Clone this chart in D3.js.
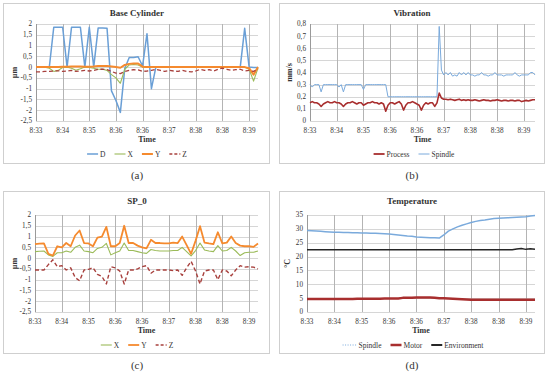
<!DOCTYPE html>
<html><head><meta charset="utf-8">
<script src="https://cdn.jsdelivr.net/npm/d3@7"></script>
<style>
body{margin:0;background:#fff}
svg{display:block}
text{font-family:"Liberation Serif","DejaVu Serif",serif;fill:#333}
</style>
</head><body><svg id="c" width="550" height="376"></svg>
<script>
// ---------- shared tick labels ----------
const timeLabels = ["8:33","8:34","8:35","8:36","8:36","8:37","8:38","8:38","8:39"];

// ---------- (a) Base Cylinder ----------
const cylTicks = [-2.5,-2,-1.5,-1,-0.5,0,0.5,1,1.5,2];
const cylD = [0,0,0,0,1.85,1.85,1.85,0,1.85,1.85,1.85,0,1.85,0,1.82,1.82,1.8,-1.1,-1.55,-2.1,-0.05,0.45,0.45,0.48,0.05,1.55,-1.0,0,
  0,0,0,0,0,0,0,0,0,0,0,0,0,0,0,0,0,0,0,1.8,0,-0.02,-0.02];
const cylX = [0,0,0,-0.05,-0.2,-0.15,-0.02,0,-0.05,-0.15,-0.08,0,-0.02,-0.05,-0.1,-0.1,-0.15,-0.35,-0.5,-0.75,-0.1,0.1,0.12,0.1,0,0,0,0,
  0,0,0,0,0,0,0,0,0,0,0,0,0,0,0,0,0,0,0,0,-0.1,-0.65,-0.05];
const cylY = [0,0,0,0,0,0,0.02,0.02,0.03,0.03,0.03,0.02,0.02,0.03,0.05,0.05,0.05,0.03,0,-0.03,0.1,0.15,0.17,0.17,0.02,0,0,0,
  0,0,0,0,0,0,0,0,0,0,0,0,0,0,0,0,0,0,0,0,-0.05,-0.35,0];
const cylZ = [-0.22,-0.22,-0.2,-0.2,-0.18,-0.17,-0.2,-0.18,-0.15,-0.2,-0.18,-0.15,-0.18,-0.15,-0.1,-0.1,-0.12,-0.2,-0.28,-0.3,-0.2,-0.15,-0.12,-0.13,-0.2,
  -0.18,-0.15,-0.1,-0.15,-0.2,-0.15,-0.18,-0.2,-0.15,-0.2,-0.22,-0.18,-0.1,-0.15,-0.12,-0.18,-0.1,-0.05,-0.1,-0.15,-0.12,-0.1,-0.18,-0.15,-0.2,-0.1];

// ---------- (b) Vibration ----------
const vibTicks = [0,0.1,0.2,0.3,0.4,0.5,0.6,0.7,0.8];
const vibProcess = [0.15,0.16,0.15,0.15,0.14,0.12,0.14,0.15,0.16,0.15,0.15,0.16,0.15,0.15,0.14,0.12,0.14,0.15,0.15,0.16,
  0.15,0.14,0.15,0.15,0.13,0.14,0.15,0.15,0.16,0.15,0.15,0.14,0.15,0.14,0.08,0.13,0.15,0.15,0.14,0.15,
  0.16,0.14,0.09,0.13,0.15,0.15,0.16,0.15,0.14,0.13,0.09,0.13,0.15,0.14,0.15,0.15,0.12,0.15,0.23,0.19,
  0.18,0.18,0.175,0.18,0.175,0.17,0.175,0.18,0.17,0.175,0.17,0.175,0.17,0.17,0.175,0.17,0.165,0.17,0.175,0.17,
  0.17,0.165,0.17,0.17,0.175,0.17,0.165,0.17,0.17,0.165,0.17,0.17,0.165,0.17,0.17,0.16,0.165,0.17,0.165,0.17,0.175,0.175];
const vibSpindle = [0.3,0.28,0.3,0.3,0.3,0.24,0.3,0.3,0.3,0.3,0.3,0.3,0.3,0.28,0.3,0.24,0.3,0.3,0.3,0.3,
  0.3,0.3,0.3,0.3,0.26,0.3,0.3,0.3,0.3,0.3,0.3,0.3,0.3,0.3,0.3,0.2,0.2,0.2,0.2,0.2,
  0.2,0.2,0.2,0.2,0.2,0.2,0.2,0.2,0.2,0.2,0.2,0.2,0.2,0.2,0.2,0.2,0.2,0.2,0.78,0.42,
  0.38,0.4,0.38,0.4,0.37,0.38,0.37,0.4,0.38,0.4,0.38,0.4,0.38,0.38,0.37,0.38,0.38,0.4,0.38,0.38,
  0.37,0.38,0.38,0.4,0.38,0.38,0.38,0.37,0.38,0.38,0.38,0.38,0.4,0.38,0.37,0.38,0.38,0.38,0.38,0.4,0.4,0.38];

// ---------- (c) SP_0 ----------
const spTicks = cylTicks;
const spX = [0.3,0.32,0.33,0.15,0.08,0.25,0.25,0.33,0.27,0.5,0.6,0.33,0.3,0.25,0.45,0.5,0.68,0.15,0.25,0.33,
  0.7,0.35,0.35,0.3,0.25,0.22,0.4,0.35,0.33,0.33,0.33,0.35,0.35,0.5,0.3,0.1,0.35,0.7,0.38,0.33,
  0.3,0.58,0.33,0.35,0.5,0.33,0.12,0.25,0.27,0.27,0.33];
const spY = [0.65,0.67,0.68,0.2,0.12,0.55,0.5,0.7,0.55,1.05,1.28,0.7,0.68,0.55,0.95,1.0,1.45,0.55,0.55,0.7,
  1.5,0.7,0.7,0.58,0.5,0.45,0.85,0.7,0.7,0.68,0.68,0.72,0.7,1.0,0.6,0.2,0.8,1.48,0.72,0.68,
  0.65,1.2,0.68,0.72,1.0,0.7,0.58,0.55,0.55,0.52,0.68];
const spZ = [-0.55,-0.55,-0.55,-0.3,-0.08,-0.4,-0.35,-0.55,-0.45,-0.9,-1.05,-0.55,-0.52,-0.45,-0.75,-0.85,-1.2,-0.4,-0.45,-0.6,
  -1.2,-0.55,-0.55,-0.5,-0.4,-0.35,-0.7,-0.55,-0.55,-0.55,-0.55,-0.58,-0.55,-0.8,-0.45,-0.15,-0.6,-1.2,-0.6,-0.55,
  -0.55,-1.0,-0.55,-0.6,-0.82,-0.55,-0.35,-0.42,-0.4,-0.42,-0.5];

// ---------- (d) Temperature ----------
const tempTicks = [0,5,10,15,20,25,30,35];
const tempSpindle = [29.4,29.3,29.2,29.1,29.0,28.9,28.8,28.8,28.7,28.7,28.6,28.6,28.5,28.5,28.4,28.4,28.3,28.2,28.1,28.0,
  27.8,27.6,27.4,27.3,27.1,27.0,26.9,26.8,26.8,26.7,27.8,29.2,30.0,30.7,31.3,31.8,32.3,32.7,33.0,33.2,
  33.5,33.7,33.8,33.9,34.0,34.1,34.2,34.3,34.4,34.6,34.8];
const tempMotor = [4.7,4.7,4.7,4.7,4.7,4.7,4.7,4.7,4.7,4.7,4.7,4.8,4.8,4.8,4.8,4.8,4.8,4.9,4.9,4.9,
  4.9,5.1,5.1,5.1,5.2,5.2,5.2,5.2,5.1,5.0,5.0,4.9,4.8,4.7,4.6,4.5,4.4,4.4,4.4,4.4,
  4.4,4.4,4.4,4.4,4.4,4.4,4.4,4.4,4.4,4.4,4.4];
const tempEnv = [22.5,22.5,22.5,22.5,22.5,22.5,22.5,22.5,22.5,22.5,22.5,22.5,22.5,22.5,22.5,22.5,22.5,22.5,22.5,22.5,
  22.5,22.5,22.5,22.5,22.5,22.5,22.5,22.5,22.5,22.5,22.5,22.5,22.5,22.5,22.5,22.5,22.5,22.5,22.5,22.5,
  22.5,22.5,22.5,22.5,22.5,22.5,22.7,22.9,22.6,22.8,22.6];

// ---------- colours ----------
const C = {blue:"#6A9FD6", green:"#9BBB59", orange:"#F58A2E", dred:"#A8403D", pred:"#A82E2E", lblue:"#7AAADC", black:"#262626"};

const svg = d3.select("#c");
const fmt = v => String(v).replace(".", ",");

function panel(cfg){
  const g = svg.append("g");
  g.append("rect").attr("x",cfg.box[0]+0.5).attr("y",cfg.box[1]+0.5)
    .attr("width",cfg.box[2]-cfg.box[0]).attr("height",cfg.box[3]-cfg.box[1])
    .attr("fill","none").attr("stroke","#cfcfcf").attr("stroke-width",1);
  const n = cfg.series[0].values.length;
  const x = d3.scaleLinear().domain([0,n-1]).range([cfg.l,cfg.r]);
  const y = d3.scaleLinear().domain(cfg.yDomain).range([cfg.b,cfg.t]);
  g.append("g").selectAll("line").data(cfg.yTicks).join("line")
    .attr("x1",cfg.l).attr("x2",cfg.r)
    .attr("y1",d=>Math.round(y(d))+0.5).attr("y2",d=>Math.round(y(d))+0.5)
    .attr("stroke","#d6d6d6").attr("stroke-width",1);
  const tickIdx = cfg.xLabels.map((_,i)=>i*cfg.every);
  g.append("g").selectAll("line").data(tickIdx).join("line")
    .attr("x1",d=>Math.round(x(d))+0.5).attr("x2",d=>Math.round(x(d))+0.5)
    .attr("y1",cfg.t).attr("y2",cfg.b)
    .attr("stroke",(d,i)=>i===0?"#9a9a9a":"#b4b4b4").attr("stroke-width",1);
  g.append("g").selectAll("text").data(cfg.yTicks).join("text")
    .attr("x",cfg.l-4).attr("y",d=>y(d)+2.4).attr("text-anchor","end")
    .attr("font-size",7.2).text(d=>fmt(d));
  g.append("g").selectAll("text").data(tickIdx).join("text")
    .attr("x",d=>x(d)).attr("y",cfg.b+11.5).attr("text-anchor","middle")
    .attr("font-size",7.2).text((d,i)=>cfg.xLabels[i]);
  const cx = (cfg.l+cfg.r)/2;
  g.append("text").attr("x",cfg.titleX).attr("y",cfg.box[1]+13).attr("text-anchor","middle")
    .attr("font-size",9).attr("font-weight","bold").text(cfg.title);
  g.append("text").attr("x",cx).attr("y",cfg.b+21).attr("text-anchor","middle")
    .attr("font-size",8).attr("font-weight","bold").text("Time");
  g.append("text").attr("transform",`translate(${cfg.yTitleX},${(cfg.t+cfg.b)/2}) rotate(-90)`)
    .attr("text-anchor","middle").attr("font-size",8).attr("font-weight","bold").text(cfg.yTitle);
  g.append("text").attr("x",cfg.titleX).attr("y",cfg.box[3]+16).attr("text-anchor","middle")
    .attr("font-size",11).text(cfg.caption);
  const line = d3.line().x((d,i)=>x(i)).y(d=>y(d));
  cfg.series.forEach(s=>{
    g.append("path").datum(s.values).attr("d",line).attr("fill","none")
      .attr("stroke",s.color).attr("stroke-width",s.width)
      .attr("stroke-dasharray",s.dash||null).attr("stroke-linejoin","round");
  });
  const lg = g.append("g");
  let cur = 0;
  const items = cfg.legend.map(s=>{
    const it = lg.append("g");
    it.append("line").attr("x1",0).attr("x2",s.len||11).attr("y1",0).attr("y2",0)
      .attr("stroke",s.color).attr("stroke-width",s.width).attr("stroke-dasharray",s.dash||null);
    const t = it.append("text").attr("x",(s.len||11)+2).attr("y",2.6).attr("font-size",7.5).text(s.name);
    const w = (s.len||11)+2+t.node().getComputedTextLength();
    const o = cur; cur += w + 9;
    return {it,o};
  });
  const total = cur - 9;
  const lx = cfg.legendX - total/2;
  items.forEach(({it,o})=>it.attr("transform",`translate(${lx+o},${cfg.legendY})`));
}

panel({box:[3,3,269,163], l:36, r:258, t:24, b:121, yDomain:[-2.5,2], yTicks:cylTicks,
  xLabels:timeLabels, every:6, title:"Base Cylinder", titleX:137, yTitle:"µm", yTitleX:17, caption:"(a)",
  legendX:137, legendY:154,
  series:[
    {name:"D", values:cylD, color:C.blue, width:1.5},
    {name:"X", values:cylX, color:C.green, width:1.1},
    {name:"Y", values:cylY, color:C.orange, width:2},
    {name:"Z", values:cylZ, color:C.dred, width:1.3, dash:"4,2.5"}
  ],
  legend:[
    {name:"D", color:C.blue, width:1.5},
    {name:"X", color:C.green, width:1.1},
    {name:"Y", color:C.orange, width:2},
    {name:"Z", color:C.dred, width:1.3, dash:"3,2"}
  ]});

panel({box:[279,3,544,163], l:310, r:535, t:24, b:121, yDomain:[0,0.8], yTicks:vibTicks,
  xLabels:timeLabels, every:12, title:"Vibration", titleX:412, yTitle:"mm/s", yTitleX:292, caption:"(b)",
  legendX:414, legendY:154,
  series:[
    {name:"Spindle", values:vibSpindle, color:C.lblue, width:1},
    {name:"Process", values:vibProcess, color:C.pred, width:1.6}
  ],
  legend:[
    {name:"Process", color:C.pred, width:1.8},
    {name:"Spindle", color:C.lblue, width:1}
  ]});

panel({box:[3,191,269,353], l:35, r:258, t:215, b:312, yDomain:[-2.5,2], yTicks:spTicks,
  xLabels:timeLabels, every:6, title:"SP_0", titleX:137, yTitle:"µm", yTitleX:17, caption:"(c)",
  legendX:137, legendY:345,
  series:[
    {name:"X", values:spX, color:C.green, width:1.1},
    {name:"Y", values:spY, color:C.orange, width:1.8},
    {name:"Z", values:spZ, color:C.dred, width:1.4, dash:"4,2.5"}
  ],
  legend:[
    {name:"X", color:C.green, width:1.1},
    {name:"Y", color:C.orange, width:1.8},
    {name:"Z", color:C.dred, width:1.4, dash:"3,2"}
  ]});

panel({box:[279,191,544,353], l:307, r:535, t:215, b:312, yDomain:[0,35], yTicks:tempTicks,
  xLabels:timeLabels, every:6, title:"Temperature", titleX:412, yTitle:"°C", yTitleX:290, caption:"(d)",
  legendX:413, legendY:345,
  series:[
    {name:"Environment", values:tempEnv, color:C.black, width:1.5},
    {name:"Motor", values:tempMotor, color:C.pred, width:2.5},
    {name:"Spindle", values:tempSpindle, color:C.lblue, width:1.5}
  ],
  legend:[
    {name:"Spindle", color:C.lblue, width:1.2, dash:"1,1.5", len:14},
    {name:"Motor", color:C.pred, width:2.5},
    {name:"Environment", color:C.black, width:2}
  ]});
</script>
</body></html>
